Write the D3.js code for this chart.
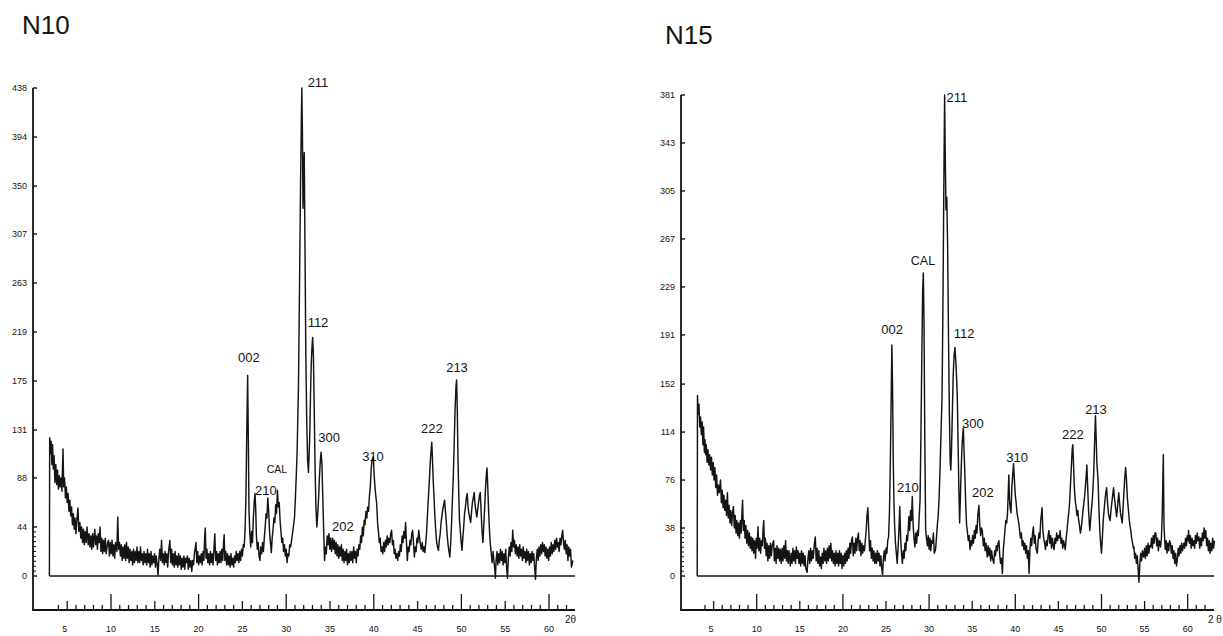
<!DOCTYPE html>
<html>
<head>
<meta charset="utf-8">
<script src="https://cdn.jsdelivr.net/npm/d3@7"></script>
<style>
  body { margin: 0; background: #fff; }
  svg { display: block; font-family: "Liberation Sans", Arial, sans-serif; }
</style>
</head>
<body>
<div id="chart"></div>
<script>
// ---- data: [2theta, counts] ----
const n10Scan = [
  [2.97,0],[3.0,124],[3.1,110],[3.17,121],[3.25,100],[3.33,118],[3.42,96],[3.5,108],[3.6,84],[3.7,100],
  [3.8,82],[3.9,95],[4.0,78],[4.1,90],[4.2,80],[4.3,88],[4.4,76],[4.52,114],[4.6,80],[4.7,88],
  [4.8,70],[4.9,80],[5.0,66],[5.1,74],[5.2,58],[5.3,68],[5.4,54],[5.5,62],[5.6,46],[5.7,56],
  [5.8,42],[5.9,52],[6.0,38],[6.1,50],[6.23,61],[6.33,40],[6.45,48],[6.55,34],[6.65,44],[6.75,30],
  [6.85,42],[6.95,28],[7.05,40],[7.17,30],[7.27,44],[7.4,28],[7.5,38],[7.6,26],[7.7,36],[7.8,24],
  [7.9,38],[8.0,26],[8.15,42],[8.25,28],[8.35,36],[8.45,24],[8.55,38],[8.65,30],[8.75,44],[8.85,22],
  [8.95,34],[9.05,20],[9.15,32],[9.25,22],[9.35,34],[9.45,20],[9.62,30],[9.72,32],[9.82,18],[9.92,30],
  [10.02,20],[10.12,32],[10.22,18],[10.32,28],[10.42,16],[10.52,30],[10.67,22],[10.77,53],[10.87,24],[10.97,30],
  [11.07,18],[11.17,28],[11.27,14],[11.37,26],[11.47,16],[11.57,28],[11.67,14],[11.77,30],[11.87,16],[11.97,26],
  [12.07,12],[12.17,24],[12.27,14],[12.37,22],[12.47,10],[12.57,24],[12.67,12],[12.77,22],[12.87,14],[12.97,26],
  [13.07,12],[13.17,22],[13.27,12],[13.37,26],[13.47,14],[13.57,20],[13.67,10],[13.77,22],[13.87,12],[13.97,20],
  [14.07,10],[14.17,24],[14.27,12],[14.37,20],[14.47,8],[14.57,22],[14.67,10],[14.77,18],[14.87,12],[14.97,20],
  [15.07,8],[15.17,18],[15.27,10],[15.37,1],[15.47,16],[15.57,24],[15.67,14],[15.77,32],[15.87,12],[15.97,20],
  [16.07,10],[16.17,22],[16.27,12],[16.37,20],[16.47,8],[16.57,22],[16.72,32],[16.82,12],[16.92,24],[17.02,10],
  [17.12,20],[17.22,8],[17.32,22],[17.42,10],[17.52,18],[17.62,8],[17.72,20],[17.82,10],[17.92,18],[18.02,6],
  [18.12,16],[18.22,8],[18.32,18],[18.42,6],[18.52,16],[18.62,12],[18.72,18],[18.82,6],[18.92,16],[19.02,8],
  [19.12,14],[19.22,4],[19.32,14],[19.42,10],[19.52,20],[19.7,30],[19.8,12],[19.9,22],[20.0,10],[20.1,18],
  [20.2,12],[20.3,20],[20.4,10],[20.5,22],[20.6,14],[20.7,36],[20.76,43],[20.85,16],[20.95,24],[21.05,12],
  [21.15,20],[21.25,10],[21.35,22],[21.45,12],[21.55,20],[21.65,10],[21.75,24],[21.85,38],[21.95,14],[22.05,22],
  [22.15,10],[22.25,20],[22.35,12],[22.45,22],[22.55,12],[22.65,24],[22.75,14],[22.85,30],[22.92,37],[23.0,14],
  [23.1,22],[23.2,10],[23.3,20],[23.4,10],[23.5,18],[23.6,8],[23.7,20],[23.8,10],[23.9,16],[24.0,8],
  [24.1,18],[24.2,12],[24.3,22],[24.4,14],[24.5,20],[24.6,12],[24.7,22],[24.8,14],[24.9,24],[25.0,18],
  [25.1,28],[25.2,26],[25.3,40],[25.4,70],[25.5,130],[25.6,180],[25.68,120],[25.75,60],[25.85,38],[25.95,26],
  [26.05,40],[26.15,30],[26.25,52],[26.35,66],[26.44,74],[26.52,60],[26.6,36],[26.7,24],[26.8,30],[26.9,18],
  [27.0,14],[27.1,26],[27.2,20],[27.3,30],[27.4,22],[27.5,34],[27.6,44],[27.7,56],[27.8,52],[27.9,70],
  [28.0,58],[28.1,40],[28.2,30],[28.3,21],[28.4,34],[28.5,42],[28.6,52],[28.7,48],[28.8,64],[28.9,56],
  [29.0,77],[29.1,62],[29.2,66],[29.3,50],[29.4,40],[29.5,30],[29.6,34],[29.7,22],[29.8,28],[29.9,18],
  [30.0,24],[30.1,12],[30.2,20],[30.3,18],[30.4,28],[30.5,26],[30.65,34],[30.75,40],[30.85,46],[30.95,53],
  [31.05,70],[31.15,90],[31.25,113],[31.4,170],[31.52,260],[31.65,360],[31.78,438],[31.85,400],[31.92,330],[31.99,360],
  [32.06,380],[32.14,300],[32.24,200],[32.34,140],[32.44,105],[32.54,93],[32.62,110],[32.7,130],[32.78,165],[32.86,190],
  [32.94,205],[33.02,214],[33.1,200],[33.2,150],[33.3,95],[33.4,60],[33.5,44],[33.6,56],[33.7,70],[33.8,90],
  [33.9,104],[33.98,111],[34.08,100],[34.18,70],[34.28,40],[34.38,14],[34.48,26],[34.58,20],[34.68,36],[34.78,28],
  [34.88,38],[34.98,24],[35.08,34],[35.18,22],[35.3,34],[35.4,24],[35.5,32],[35.6,20],[35.7,30],[35.8,18],
  [35.9,28],[36.0,16],[36.1,26],[36.2,18],[36.3,28],[36.4,14],[36.5,24],[36.6,12],[36.7,22],[36.8,14],
  [36.9,24],[37.0,10],[37.1,20],[37.2,12],[37.3,22],[37.4,14],[37.5,22],[37.6,12],[37.7,26],[37.8,16],
  [37.9,22],[38.0,12],[38.1,24],[38.2,18],[38.3,28],[38.4,24],[38.5,36],[38.6,30],[38.7,44],[38.8,36],
  [38.9,50],[39.0,46],[39.1,58],[39.2,52],[39.3,62],[39.4,58],[39.5,72],[39.6,80],[39.7,96],[39.8,104],
  [39.95,107],[40.03,92],[40.13,80],[40.23,72],[40.33,65],[40.43,48],[40.53,40],[40.63,30],[40.73,34],[40.83,22],
  [40.93,26],[41.03,20],[41.13,30],[41.23,22],[41.33,32],[41.43,26],[41.53,36],[41.63,28],[41.73,34],[41.83,30],
  [41.93,38],[42.03,41],[42.13,28],[42.23,32],[42.33,20],[42.43,24],[42.53,16],[42.63,20],[42.73,14],[42.83,22],
  [42.93,18],[43.03,28],[43.13,22],[43.23,36],[43.33,30],[43.43,40],[43.53,34],[43.63,48],[43.73,30],[43.83,14],
  [43.93,26],[44.03,22],[44.13,32],[44.23,28],[44.33,38],[44.43,41],[44.53,30],[44.63,17],[44.73,26],[44.83,22],
  [44.93,34],[45.03,30],[45.13,41],[45.23,34],[45.33,28],[45.43,24],[45.53,30],[45.63,22],[45.73,26],[45.83,21],
  [45.93,30],[46.03,40],[46.13,56],[46.23,70],[46.33,84],[46.43,100],[46.53,112],[46.62,120],[46.7,104],[46.78,86],
  [46.88,70],[46.98,52],[47.08,40],[47.18,30],[47.28,26],[47.38,23],[47.48,32],[47.58,38],[47.68,48],[47.78,54],
  [47.88,60],[47.98,64],[48.08,68],[48.18,58],[48.28,48],[48.38,36],[48.48,28],[48.58,22],[48.68,17],[48.78,30],
  [48.88,48],[48.98,70],[49.08,90],[49.18,120],[49.28,150],[49.38,170],[49.45,176],[49.53,150],[49.6,110],[49.68,80],
  [49.78,50],[49.96,32],[50.06,23],[50.16,34],[50.26,44],[50.36,56],[50.46,62],[50.56,70],[50.66,74],[50.76,62],
  [50.86,56],[50.96,52],[51.06,48],[51.16,58],[51.26,66],[51.36,70],[51.46,75],[51.56,64],[51.66,58],[51.76,53],
  [51.86,60],[51.96,66],[52.06,72],[52.16,75],[52.26,56],[52.36,40],[52.46,30],[52.56,46],[52.66,62],[52.76,80],
  [52.86,92],[52.92,97],[53.01,80],[53.11,58],[53.21,40],[53.31,28],[53.41,20],[53.51,12],[53.61,22],[53.71,14],
  [53.81,6],[53.88,-2],[53.96,14],[54.06,22],[54.16,10],[54.26,20],[54.36,12],[54.46,24],[54.56,14],[54.66,22],
  [54.76,10],[54.86,20],[54.96,12],[55.06,24],[55.16,8],[55.26,-2],[55.36,16],[55.46,26],[55.56,18],[55.66,30],
  [55.76,22],[55.86,41],[55.96,26],[56.06,32],[56.16,20],[56.26,28],[56.36,18],[56.46,26],[56.56,16],[56.66,28],
  [56.76,18],[56.86,24],[56.96,14],[57.06,26],[57.16,16],[57.26,22],[57.36,12],[57.46,24],[57.56,14],[57.66,22],
  [57.76,10],[57.86,20],[57.96,12],[58.06,22],[58.16,14],[58.26,20],[58.36,8],[58.46,-3],[58.56,16],[58.66,24],
  [58.76,14],[58.86,26],[58.96,18],[59.06,28],[59.16,20],[59.26,30],[59.36,22],[59.46,28],[59.56,18],[59.66,26],
  [59.76,16],[59.86,24],[59.96,14],[60.06,26],[60.16,18],[60.26,30],[60.36,20],[60.46,28],[60.56,22],[60.66,32],
  [60.76,24],[60.86,34],[60.96,26],[61.06,30],[61.16,22],[61.26,34],[61.36,28],[61.46,36],[61.56,41],[61.66,30],
  [61.76,24],[61.86,32],[61.96,20],[62.06,28],[62.16,14],[62.26,26],[62.36,18],[62.46,24],[62.56,8],[62.72,14]
];

const n15Scan = [
  [3.1,0],[3.13,143],[3.2,128],[3.3,136],[3.4,118],[3.49,126],[3.58,112],[3.67,122],[3.76,104],[3.84,118],
  [3.93,98],[4.0,108],[4.07,96],[4.15,104],[4.25,90],[4.35,100],[4.45,88],[4.55,96],[4.65,84],[4.75,94],
  [4.85,80],[4.95,90],[5.05,76],[5.15,86],[5.25,70],[5.35,80],[5.45,64],[5.55,72],[5.65,66],[5.8,76],
  [5.9,58],[6.0,68],[6.1,54],[6.2,64],[6.3,52],[6.4,60],[6.5,48],[6.6,66],[6.7,46],[6.8,56],
  [6.9,42],[7.0,52],[7.1,40],[7.2,50],[7.3,55],[7.4,38],[7.5,48],[7.6,34],[7.7,44],[7.8,32],
  [7.9,42],[8.0,30],[8.1,44],[8.2,34],[8.3,52],[8.36,60],[8.45,36],[8.55,44],[8.65,30],[8.75,40],
  [8.85,26],[8.95,36],[9.05,24],[9.15,34],[9.25,22],[9.35,31],[9.45,20],[9.55,30],[9.65,18],[9.75,28],
  [9.87,14],[9.95,30],[10.05,22],[10.15,39],[10.25,20],[10.35,30],[10.45,18],[10.55,28],[10.65,24],[10.75,38],
  [10.82,44],[10.9,22],[11.0,30],[11.1,16],[11.2,26],[11.3,12],[11.4,24],[11.5,14],[11.6,26],[11.7,16],
  [11.8,24],[11.96,28],[12.05,12],[12.15,22],[12.25,10],[12.35,24],[12.45,14],[12.55,22],[12.65,12],[12.75,21],
  [12.85,10],[12.95,22],[13.05,12],[13.15,24],[13.25,14],[13.35,28],[13.45,12],[13.55,20],[13.65,10],[13.75,20],
  [13.9,8],[14.0,18],[14.1,10],[14.2,22],[14.3,12],[14.4,20],[14.5,10],[14.6,23],[14.7,14],[14.8,20],
  [14.9,10],[15.0,18],[15.1,8],[15.2,20],[15.3,10],[15.4,18],[15.5,8],[15.6,16],[15.7,6],[15.85,3],
  [15.95,14],[16.05,20],[16.15,10],[16.25,22],[16.35,12],[16.45,20],[16.55,14],[16.7,26],[16.8,31],[16.9,12],
  [17.0,22],[17.1,10],[17.2,20],[17.3,8],[17.4,15],[17.5,6],[17.6,18],[17.7,10],[17.8,22],[17.9,12],
  [18.0,20],[18.1,10],[18.2,22],[18.3,12],[18.4,24],[18.5,14],[18.6,26],[18.7,12],[18.8,20],[18.9,10],
  [19.0,18],[19.1,8],[19.2,20],[19.3,10],[19.4,18],[19.5,8],[19.6,20],[19.7,10],[19.8,18],[19.9,6],
  [20.0,16],[20.1,8],[20.2,18],[20.3,10],[20.4,20],[20.5,12],[20.6,22],[20.7,14],[20.8,26],[20.9,18],
  [21.0,28],[21.1,31],[21.2,16],[21.3,26],[21.4,18],[21.5,30],[21.6,20],[21.7,30],[21.8,34],[21.9,20],
  [22.0,28],[22.1,16],[22.2,26],[22.3,18],[22.4,24],[22.5,20],[22.6,28],[22.7,36],[22.8,48],[22.9,54],
  [23.0,36],[23.1,20],[23.2,28],[23.3,14],[23.4,22],[23.5,12],[23.6,20],[23.7,10],[23.8,18],[23.9,10],
  [24.0,20],[24.1,12],[24.2,18],[24.3,8],[24.4,16],[24.5,6],[24.6,1],[24.7,14],[24.8,20],[24.9,12],
  [25.0,22],[25.1,18],[25.2,28],[25.3,31],[25.4,50],[25.5,89],[25.6,140],[25.68,183],[25.76,150],[25.84,92],
  [25.92,60],[26.0,40],[26.1,26],[26.2,18],[26.3,10],[26.4,22],[26.5,36],[26.6,55],[26.7,30],[26.8,18],
  [26.9,10],[27.0,20],[27.1,14],[27.2,26],[27.3,20],[27.4,32],[27.5,28],[27.6,40],[27.65,47],[27.75,36],
  [27.85,52],[27.95,44],[28.05,63],[28.15,40],[28.25,30],[28.35,23],[28.45,34],[28.55,26],[28.65,36],[28.75,32],
  [28.85,47],[28.95,60],[29.05,110],[29.15,170],[29.25,225],[29.33,240],[29.41,200],[29.5,110],[29.6,36],[29.7,30],
  [29.8,24],[29.9,32],[30.0,21],[30.1,30],[30.2,20],[30.3,28],[30.4,26],[30.5,34],[30.6,18],[30.75,21],
  [30.85,30],[30.95,40],[31.05,47],[31.15,60],[31.25,80],[31.35,105],[31.5,142],[31.6,210],[31.7,300],[31.8,381],
  [31.88,330],[31.96,290],[32.05,300],[32.15,260],[32.25,190],[32.35,130],[32.45,90],[32.52,84],[32.6,100],[32.7,130],
  [32.8,160],[32.9,175],[33.0,181],[33.1,170],[33.2,155],[33.27,142],[33.35,110],[33.45,70],[33.54,42],[33.62,60],
  [33.7,80],[33.8,100],[33.9,112],[33.97,117],[34.05,100],[34.15,80],[34.25,56],[34.35,40],[34.43,36],[34.55,28],
  [34.65,32],[34.75,21],[34.85,28],[34.95,24],[35.05,32],[35.15,26],[35.25,36],[35.35,30],[35.45,40],[35.55,34],
  [35.65,48],[35.78,56],[35.88,40],[35.98,32],[36.08,38],[36.17,36],[36.3,24],[36.4,30],[36.5,20],[36.6,26],
  [36.75,15],[36.85,24],[36.95,16],[37.05,22],[37.15,12],[37.25,20],[37.35,14],[37.5,10],[37.6,20],[37.7,16],
  [37.8,24],[37.9,20],[38.0,26],[38.1,28],[38.2,16],[38.3,10],[38.4,14],[38.5,2],[38.6,20],[38.7,28],
  [38.8,36],[38.9,44],[39.0,42],[39.1,50],[39.18,66],[39.25,80],[39.32,62],[39.4,54],[39.5,50],[39.6,70],
  [39.7,80],[39.8,89],[39.9,76],[40.0,64],[40.1,58],[40.2,50],[40.3,46],[40.4,42],[40.5,36],[40.6,30],
  [40.7,34],[40.8,24],[40.9,28],[41.0,21],[41.1,26],[41.2,18],[41.3,24],[41.4,14],[41.5,20],[41.6,2],
  [41.7,22],[41.8,30],[41.9,24],[42.0,34],[42.1,39],[42.2,26],[42.3,32],[42.4,22],[42.55,18],[42.65,28],
  [42.75,34],[42.85,30],[42.95,44],[43.05,50],[43.1,54],[43.2,36],[43.3,30],[43.4,26],[43.5,21],[43.6,28],
  [43.7,24],[43.8,32],[43.9,36],[44.0,26],[44.1,32],[44.2,22],[44.3,30],[44.4,24],[44.5,21],[44.6,30],
  [44.7,26],[44.8,34],[44.9,28],[45.0,32],[45.1,30],[45.2,36],[45.3,26],[45.4,30],[45.5,22],[45.6,28],
  [45.7,24],[45.8,21],[45.9,30],[46.0,36],[46.1,44],[46.2,50],[46.3,58],[46.4,72],[46.5,86],[46.6,100],
  [46.67,104],[46.75,90],[46.85,70],[46.95,60],[47.05,55],[47.15,48],[47.25,52],[47.35,44],[47.45,40],[47.55,34],
  [47.65,38],[47.75,44],[47.85,52],[47.96,58],[48.05,64],[48.15,72],[48.25,82],[48.3,88],[48.4,70],[48.5,52],
  [48.6,40],[48.65,36],[48.75,46],[48.85,54],[48.95,62],[49.0,68],[49.1,82],[49.2,106],[49.3,127],[49.38,110],
  [49.46,90],[49.6,76],[49.7,54],[49.8,36],[49.9,26],[50.0,18],[50.1,30],[50.2,44],[50.3,52],[50.4,60],
  [50.5,66],[50.6,70],[50.7,58],[50.8,50],[50.9,46],[51.0,44],[51.1,52],[51.2,58],[51.3,64],[51.4,70],
  [51.5,62],[51.6,56],[51.75,47],[51.85,54],[51.95,62],[52.0,66],[52.1,58],[52.2,50],[52.3,46],[52.4,42],
  [52.5,54],[52.6,66],[52.7,78],[52.8,86],[52.9,76],[53.0,62],[53.1,54],[53.2,46],[53.3,40],[53.4,36],
  [53.5,30],[53.6,26],[53.7,22],[53.76,23],[53.85,14],[53.95,18],[54.05,10],[54.15,16],[54.25,6],[54.34,-5],
  [54.45,10],[54.55,18],[54.65,12],[54.75,20],[54.9,15],[55.0,22],[55.1,14],[55.2,24],[55.3,16],[55.4,26],
  [55.5,18],[55.6,24],[55.7,23],[55.8,30],[55.9,22],[56.0,32],[56.1,26],[56.2,34],[56.3,34],[56.4,24],
  [56.5,30],[56.6,20],[56.7,28],[56.85,23],[56.95,30],[57.05,50],[57.17,96],[57.25,40],[57.35,26],[57.4,21],
  [57.5,28],[57.6,18],[57.7,26],[57.8,20],[57.9,28],[58.0,26],[58.1,18],[58.2,24],[58.3,14],[58.4,20],
  [58.5,10],[58.6,18],[58.7,8],[58.8,13],[58.9,22],[59.0,16],[59.1,24],[59.2,18],[59.3,26],[59.4,20],
  [59.55,26],[59.65,22],[59.75,30],[59.85,24],[59.95,32],[60.05,28],[60.1,36],[60.2,26],[60.3,32],[60.4,22],
  [60.5,30],[60.6,24],[60.7,28],[60.8,22],[60.9,32],[61.0,26],[61.1,34],[61.2,28],[61.3,31],[61.4,22],
  [61.5,30],[61.6,24],[61.7,34],[61.8,28],[61.9,38],[62.0,30],[62.1,36],[62.2,24],[62.3,30],[62.4,20],
  [62.5,28],[62.6,18],[62.7,26],[62.8,20],[62.9,30],[63.0,22],[63.1,28]
];

// axis tick labels
const n10YTicks = [0, 44, 88, 131, 175, 219, 263, 307, 350, 394, 438];
const n15YTicks = [0, 38, 76, 114, 152, 191, 229, 267, 305, 343, 381];
const xTickLabels = [5, 10, 15, 20, 25, 30, 35, 40, 45, 50, 55, 60];

// reflection labels: name, 2theta and counts where the label sits
const n10PeakNames  = ["002", "211", "112", "300", "310", "222", "213", "210", "CAL", "202"];
const n10PeakTheta  = [25.75, 33.63, 33.63, 34.89, 39.91, 46.64, 49.5, 27.69, 28.95, 36.48];
const n10PeakCounts = [196.6, 443, 228, 124.8, 107.7, 132.8, 187.6, 77.2, 96, 44.9];

const n15PeakNames  = ["211", "CAL", "002", "112", "210", "300", "202", "310", "222", "213"];
const n15PeakTheta  = [33.23, 29.29, 25.7, 34.05, 27.53, 35.09, 36.23, 40.2, 46.69, 49.36];
const n15PeakCounts = [379, 250, 195, 192, 70.5, 121, 66, 94, 112, 132];

const svgWidth = 1223, svgHeight = 636;
const ink = "#141414";

function add_panel(svg, p) {
    let x = d3.scaleLinear().domain(p.xDomain).range(p.xRange);
    let y = d3.scaleLinear().domain([0, p.yMax]).range([p.baseY, p.topY]);
    let g = svg.append("g");

    // title
    g.append("text")
        .attr("x", p.titleX)
        .attr("y", p.titleY)
        .attr("fill", ink)
        .style("font-size", "26px")
        .text(p.title);

    // outer y axis, runs down to the 2theta axis
    g.append("line")
        .attr("x1", p.axisX).attr("x2", p.axisX)
        .attr("y1", y(p.yMax)).attr("y2", p.axisY + 1)
        .attr("stroke", ink).attr("stroke-width", 1.8);

    g.append("g")
        .selectAll("line")
        .data(p.yTicks)
        .enter()
        .append("line")
            .attr("x1", p.axisX).attr("x2", p.axisX + 4)
            .attr("y1", d => y(d)).attr("y2", d => y(d))
            .attr("stroke", ink).attr("stroke-width", 1.4);

    // small ticks between 0 and the first labelled tick
    g.append("g")
        .selectAll("line")
        .data(d3.range(1, 10).map(i => p.yTicks[1] * i / 10))
        .enter()
        .append("line")
            .attr("x1", p.axisX).attr("x2", p.axisX + 3)
            .attr("y1", d => y(d)).attr("y2", d => y(d))
            .attr("stroke", ink).attr("stroke-width", 1);

    g.append("g")
        .selectAll("text")
        .data(p.yTicks)
        .enter()
        .append("text")
            .attr("x", p.axisX - 6)
            .attr("y", d => y(d))
            .attr("dy", "0.35em")
            .attr("text-anchor", "end")
            .attr("fill", ink)
            .style("font-size", "9px")
            .text(d => d);

    // 2theta axis below the plot
    g.append("line")
        .attr("x1", p.axisX).attr("x2", p.xEnd)
        .attr("y1", p.axisY).attr("y2", p.axisY)
        .attr("stroke", ink).attr("stroke-width", 1.8);

    g.append("g")
        .selectAll("line")
        .data(d3.range(4, 63))
        .enter()
        .append("line")
            .attr("x1", d => x(d)).attr("x2", d => x(d))
            .attr("y1", p.axisY)
            .attr("y2", d => p.axisY - (d % 10 === 0 ? 16 : d % 5 === 0 ? 9 : 5))
            .attr("stroke", ink).attr("stroke-width", 1.3);

    g.append("g")
        .selectAll("text")
        .data(xTickLabels)
        .enter()
        .append("text")
            .attr("x", d => x(d) - 5)
            .attr("y", p.axisY + 22)
            .attr("fill", ink)
            .style("font-size", "9px")
            .text(d => d);

    g.append("text")
        .attr("x", p.thetaLabelX)
        .attr("y", p.axisY + 13)
        .attr("fill", ink)
        .style("font-size", "10px")
        .text(p.thetaLabel);

    // zero line of the scan
    g.append("line")
        .attr("x1", x(p.scan[0][0])).attr("x2", p.xEnd)
        .attr("y1", y(0)).attr("y2", y(0))
        .attr("stroke", ink).attr("stroke-width", 1.5);

    let line = d3.line()
        .x(d => x(d[0]))
        .y(d => y(d[1]));

    g.append("path")
        .datum(p.scan)
        .attr("d", line)
        .attr("fill", "none")
        .attr("stroke", ink)
        .attr("stroke-width", 1.45)
        .attr("stroke-linejoin", "round");

    // reflection labels
    g.append("g")
        .selectAll("text")
        .data(p.peakNames)
        .enter()
        .append("text")
            .attr("x", (d, i) => x(p.peakTheta[i]))
            .attr("y", (d, i) => y(p.peakCounts[i]))
            .attr("dy", "0.35em")
            .attr("text-anchor", "middle")
            .attr("fill", ink)
            .style("font-size", d => d === "CAL" ? p.calSize : "13px")
            .text(d => d);
}

let svg = d3.select("#chart")
    .append("svg")
    .attr("width", svgWidth)
    .attr("height", svgHeight);

add_panel(svg, {
    title: "N10", titleX: 22, titleY: 34,
    scan: n10Scan, yMax: 438, yTicks: n10YTicks,
    xDomain: [10, 60], xRange: [111, 549],
    baseY: 576, topY: 88, axisX: 33, axisY: 610, xEnd: 575,
    thetaLabel: "2θ", thetaLabelX: 565,
    peakNames: n10PeakNames, peakTheta: n10PeakTheta, peakCounts: n10PeakCounts,
    calSize: "10.5px"
});

add_panel(svg, {
    title: "N15", titleX: 665, titleY: 44,
    scan: n15Scan, yMax: 381, yTicks: n15YTicks,
    xDomain: [5, 60], xRange: [713.6, 1187.7],
    baseY: 576, topY: 95, axisX: 681, axisY: 610, xEnd: 1214,
    thetaLabel: "2 θ", thetaLabelX: 1208,
    peakNames: n15PeakNames, peakTheta: n15PeakTheta, peakCounts: n15PeakCounts,
    calSize: "12.5px"
});
</script>
</body>
</html>
